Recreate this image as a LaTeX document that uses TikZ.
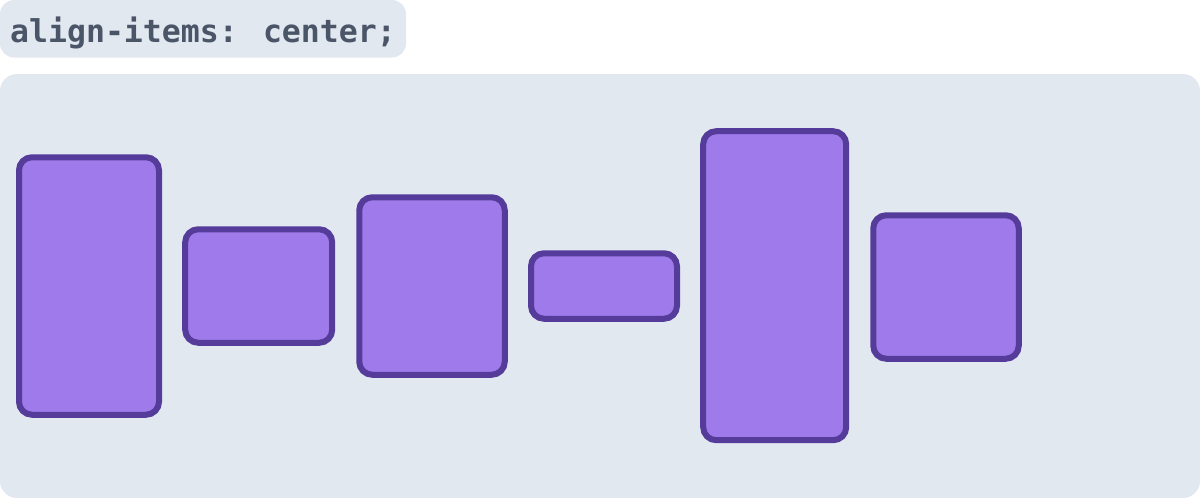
\documentclass[tikz,border=0pt]{standalone}
\usepackage{fontspec}
\newfontfamily\codefont{DejaVu Sans Mono}
\definecolor{panel}{HTML}{E2E8F0}
\definecolor{codetext}{HTML}{4A5568}
\definecolor{itemfill}{HTML}{9F7AEA}
\definecolor{itemline}{HTML}{553C9A}
\tikzset{
  itembox/.style={draw=itemline, fill=itemfill, line width=6pt, rounded corners=13pt,
    inner sep=0pt, outer sep=0pt, rectangle},
}
\begin{document}
\begin{tikzpicture}[x=1pt,y=-1pt]
\useasboundingbox (0,0) rectangle (1200,498);
% label background
\fill[panel, rounded corners=14pt] (0,0) rectangle (406,57.5);
\node[anchor=base west, inner sep=0pt, text=codetext, font=\codefont\bfseries\fontsize{31.5}{36}\selectfont] (title) at (10,42.5) {align-items: center;};
% container
\fill[panel, rounded corners=17pt] (0,74) rectangle (1200,498);
% items
\node[itembox, minimum width=140pt, minimum height=257.5pt] (i1) at (89,286) {};
\node[itembox, minimum width=147pt, minimum height=113.5pt] (i2) at (258.7,286) {};
\node[itembox, minimum width=145.5pt, minimum height=177.5pt] (i3) at (432,286) {};
\node[itembox, minimum width=146pt, minimum height=65.5pt] (i4) at (604,286) {};
\node[itembox, minimum width=143pt, minimum height=309pt] (i5) at (774.7,285.7) {};
\node[itembox, minimum width=145.5pt, minimum height=143.5pt] (i6) at (946,287) {};
\end{tikzpicture}
\end{document}
